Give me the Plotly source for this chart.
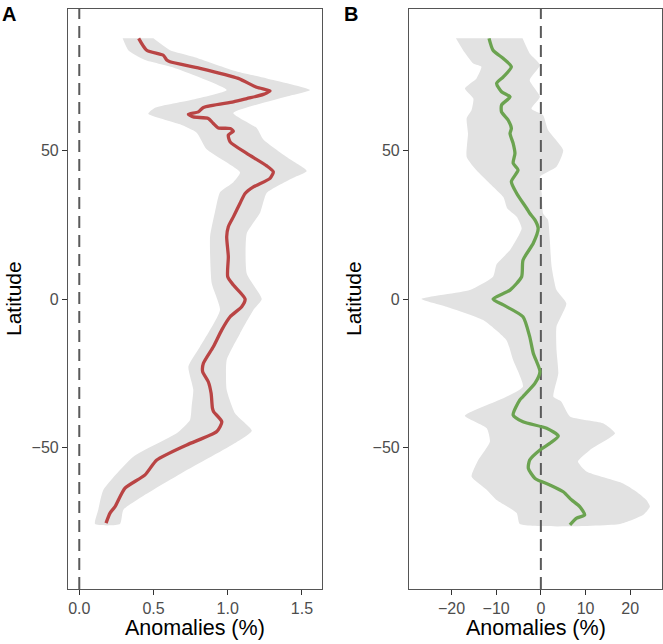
import plotly.graph_objects as go

# ---------------- Panel A data (latitude, anomaly %) ----------------
lat_a = [87.9, 83.9, 82.2, 80.6, 80.0, 77.8, 74.4, 71.4, 70.2, 69.0, 67.6, 66.5,
         64.6, 63.1, 62.3, 61.4, 60.9, 59.2, 57.7, 57.5, 56.6, 55.3, 53.0, 49.1,
         44.9, 42.9, 40.7, 37.8, 35.6, 32.3, 27.7, 24.4, 21.0, 14.3, 7.5, 4.7,
         0.0, -2.6, -6.0, -10.4, -16.1, -21.7, -24.5, -27.9, -31.8, -36.8, -38.0,
         -41.4, -44.7, -49.2, -54.3, -59.3, -63.8, -70.0, -72.2, -75.6]
mean_a = [0.40, 0.454, 0.566, 0.589, 0.611, 0.813, 1.071, 1.195, 1.285, 1.240, 1.128, 1.038,
          0.836, 0.802, 0.735, 0.768, 0.869, 0.903, 0.937, 1.016, 1.038, 1.004, 1.016, 1.128,
          1.263, 1.307, 1.285, 1.173, 1.117, 1.083, 1.038, 1.004, 0.993, 1.004, 1.0, 1.038,
          1.117, 1.094, 1.016, 0.960, 0.903, 0.836, 0.831, 0.869, 0.888, 0.897, 0.905,
          0.960, 0.926, 0.724, 0.522, 0.443, 0.308, 0.241, 0.207, 0.180]

lat_lo_a = [87.9, 83.9, 80.6, 78.1, 70.5, 67.3, 64.5, 62.5, 58.9, 56.1, 50.5, 42.7,
            39.4, 36.0, 29.3, 21.0, 5.3, -3.7, -16.1, -22.8, -30.6, -36.2, -40.8,
            -45.3, -53.2, -64.4, -71.1, -75.9]
lo_a = [0.292, 0.330, 0.443, 0.633, 0.993, 0.768, 0.510, 0.465, 0.679, 0.791, 0.858, 1.083,
        1.038, 0.948, 0.914, 0.881, 0.892, 0.948, 0.813, 0.735, 0.768, 0.757, 0.746,
        0.656, 0.364, 0.162, 0.128, 0.106]

lat_hi_a = [87.9, 83.9, 81.7, 76.7, 74.4, 70.5, 68.3, 62.7, 57.7, 53.8, 47.1, 43.2,
            40.9, 35.8, 29.1, 22.1, 8.6, 0.0, -3.7, -11.6, -20.6, -30.6, -38.6,
            -44.4, -48.9, -59.0, -65.7, -71.1, -75.9]
hi_a = [0.499, 0.611, 0.768, 1.061, 1.263, 1.555, 1.398, 1.038, 1.195, 1.240, 1.420, 1.532,
        1.442, 1.263, 1.218, 1.128, 1.128, 1.229, 1.173, 1.083, 0.993, 0.993, 1.050,
        1.162, 1.038, 0.679, 0.454, 0.297, 0.274]

# ---------------- Panel B data ----------------
lat_b = [87.9, 83.9, 81.1, 78.3, 74.9, 72.7, 69.9, 68.2, 65.4, 63.1, 60.3, 57.5, 55.8,
         52.5, 49.1, 45.8, 43.5, 39.6, 35.6, 30.6, 28.9, 26.6, 23.8, 18.8, 13.1, 7.5,
         3.0, 0.0, -2.0, -6.0, -12.7, -18.3, -24.5, -28.4, -32.9, -34.0, -39.1, -41.4,
         -43.6, -46.2, -48.7, -50.9, -54.3, -57.1, -60.5, -62.7, -65.0, -67.8, -70.0,
         -72.8, -73.9, -76.2]
mean_b = [-11.6, -10.7, -8.4, -6.6, -8.4, -9.9, -8.8, -6.9, -8.8, -8.8, -7.3, -6.6, -6.9,
          -6.2, -5.8, -6.2, -5.1, -6.6, -5.4, -3.2, -2.5, -1.3, -0.6, -1.7, -4.0, -4.3,
          -6.9, -10.7, -8.4, -4.0, -2.5, -1.7, -0.2, -1.3, -4.0, -4.7, -6.2, -4.0,
          1.3, 3.9, 2.0, -0.2, -2.5, -2.8, -1.3, 2.0, 5.0, 6.9, 8.7,
          9.8, 8.0, 6.5]

lat_lo_b = [87.9, 83.9, 79.4, 78.3, 74.4, 71.0, 67.6, 63.7, 60.9, 55.8, 47.9, 43.4,
            38.9, 34.4, 30.5, 27.7, 23.8, 16.5, 11.7, 7.5, 3.0, 0.0, -2.6, -7.1,
            -13.9, -20.6, -29.6, -34.0, -39.4, -43.6, -48.1, -54.3, -59.9, -64.4,
            -67.8, -72.2, -75.9]
lo_b = [-19.0, -17.4, -15.1, -13.3, -14.4, -17.0, -15.1, -15.5, -16.6, -16.3, -16.6, -14.4,
        -11.4, -8.4, -7.5, -5.4, -4.3, -6.9, -9.9, -10.7, -15.9, -26.7, -21.1, -12.9,
        -7.7, -6.2, -4.0, -9.2, -17.0, -12.1, -11.4, -14.0, -15.5, -12.1,
        -9.9, -5.4, -4.7]

lat_hi_b = [87.9, 82.8, 78.9, 73.8, 68.2, 64.2, 62.0, 57.0, 50.2, 44.6, 41.2, 35.6,
            28.8, 26.6, 19.9, 11.0, 3.0, -1.5, -9.3, -17.2, -25.1, -33.0, -34.5,
            -39.6, -41.9, -45.3, -50.9, -54.8, -58.2, -62.2, -65.0, -67.8, -70.0,
            -72.8, -75.9]
hi_b = [-4.1, -2.5, -0.2, -2.5, -0.2, -2.1, 0.5, 1.6, 5.0, 3.5, -0.2, 0.2,
        0.5, 1.6, 2.0, 2.4, 3.5, 5.7, 3.5, 3.5, 3.9, 2.8, 4.5,
        6.5, 13.9, 16.6, 11.0, 8.3, 10.2, 18.4, 21.4, 23.6, 24.4,
        22.9, 17.7]

yticks = [-50, 0, 50]
xticks_a = [0.0, 0.5, 1.0, 1.5]
xticks_b = [-20, -10, 0, 10, 20]

x_title = "Anomalies (%)"
y_title = "Latitude"
panel_labels = ["A", "B"]

YR = [-97.8, 97.8]
XR_A = [-0.076, 1.635]
XR_B = [-29.5, 27.1]

BAND = "#E2E2E2"
RED = "#B94444"
GREEN = "#6BA350"
DASH = "#5A5A5A"
FONT = "Liberation Sans, Arial, sans-serif"

W, H = 663, 644


def px(x):
    return x / W


def py(y):
    return 1 - y / H


fig = go.Figure()


def add_panel(xa, ya, lat_m, mean, lat_lo, lo, lat_hi, hi, color):
    bx = list(lo) + list(hi)[::-1]
    by = list(lat_lo) + list(lat_hi)[::-1]
    fig.add_trace(go.Scatter(x=bx, y=by, fill="toself", fillcolor=BAND,
                             line=dict(width=0, color=BAND, shape="spline", smoothing=0.5),
                             mode="lines", xaxis=xa, yaxis=ya, hoverinfo="skip",
                             showlegend=False))
    fig.add_trace(go.Scatter(x=[0, 0], y=YR, mode="lines",
                             line=dict(color=DASH, width=2, dash="12px,7px"),
                             xaxis=xa, yaxis=ya, hoverinfo="skip", showlegend=False))
    fig.add_trace(go.Scatter(x=mean, y=lat_m, mode="lines",
                             line=dict(color=color, width=3.3, shape="spline", smoothing=0.6),
                             xaxis=xa, yaxis=ya, showlegend=False))


add_panel("x", "y", lat_a, mean_a, lat_lo_a, lo_a, lat_hi_a, hi_a, RED)
add_panel("x2", "y2", lat_b, mean_b, lat_lo_b, lo_b, lat_hi_b, hi_b, GREEN)

axis_common = dict(showline=True, mirror=True, linecolor="#555555", linewidth=1.2,
                   ticks="outside", ticklen=5, tickwidth=1.2, tickcolor="#333333",
                   showgrid=False, zeroline=False,
                   tickfont=dict(family=FONT, size=16, color="#4D4D4D"))

Y_DOM = [py(589), py(9)]
fig.update_layout(
    width=W, height=H,
    margin=dict(l=0, r=0, t=0, b=0),
    paper_bgcolor="white", plot_bgcolor="white",
    font=dict(family=FONT),
    xaxis=dict(domain=[px(68), px(322)], range=XR_A, tickvals=xticks_a,
               tickformat=".1f", anchor="y", **axis_common),
    yaxis=dict(domain=Y_DOM, range=YR, tickvals=yticks, anchor="x", **axis_common),
    xaxis2=dict(domain=[px(409), px(662)], range=XR_B, tickvals=xticks_b,
                anchor="y2", **axis_common),
    yaxis2=dict(domain=Y_DOM, range=YR, tickvals=yticks, anchor="x2", **axis_common),
)

ann = []
for cx, lbl in [(9, panel_labels[0]), (350.5, panel_labels[1])]:
    ann.append(dict(x=px(cx), y=py(14), xref="paper", yref="paper", text=f"<b>{lbl}</b>",
                    showarrow=False, xanchor="center", yanchor="middle",
                    font=dict(family=FONT, size=20, color="black")))
for cx in [195, 535.5]:
    ann.append(dict(x=px(cx), y=py(628), xref="paper", yref="paper", text=x_title,
                    showarrow=False, xanchor="center", yanchor="middle",
                    font=dict(family=FONT, size=21.5, color="black")))
for cx in [13, 353]:
    ann.append(dict(x=px(cx), y=py(299), xref="paper", yref="paper", text=y_title,
                    showarrow=False, xanchor="center", yanchor="middle", textangle=-90,
                    font=dict(family=FONT, size=21, color="black")))
fig.update_layout(annotations=ann)

fig.write_html("out.html", config={"displayModeBar": False},
               post_script="document.body.style.margin='0';"
                           "document.body.style.overflow='hidden';")
